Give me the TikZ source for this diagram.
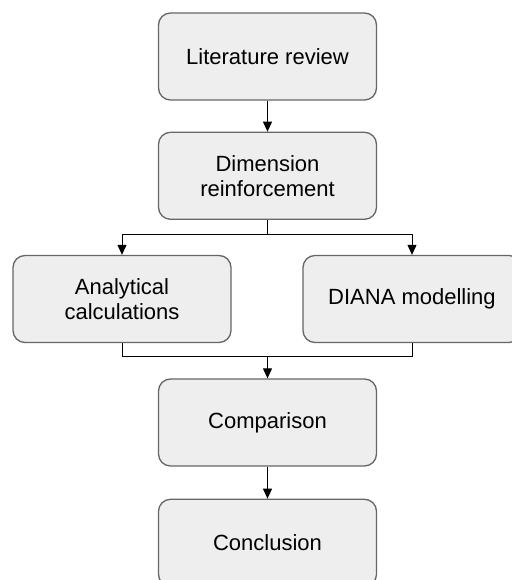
\documentclass[tikz,border=0pt]{standalone}
\usepackage{fontspec}
\setmainfont{Liberation Sans}
\usepackage{tikz}
\usetikzlibrary{positioning,arrows.meta,calc}
\definecolor{boxfill}{RGB}{238,238,238}
\definecolor{boxline}{RGB}{102,102,102}
\tikzset{
  stage/.style={draw=boxline,fill=boxfill,line width=1.3pt,rounded corners=12pt,align=center,
    font=\fontsize{22}{25}\selectfont,minimum width=218pt,minimum height=87pt,inner sep=0pt},
  flow/.style={-{Triangle[length=10pt,width=9pt]},line width=1pt},
  link/.style={line width=1pt},
}

\begin{document}
\begin{tikzpicture}[node distance=31pt]
  \useasboundingbox (0,0) rectangle (511pt,-580pt);
  \node[stage] (lit) at (267.5pt,-56.5pt) {Literature review};
  \node[stage,below=31pt of lit] (dim) {Dimension\\reinforcement};
  \node[stage] (ana) at (122pt,-299pt) {Analytical\\calculations};
  \node[stage] (diana) at (412pt,-299pt) {DIANA modelling};
  \node[stage] (comp) at (267.5pt,-422.5pt) {Comparison};
  \node[stage,below=32pt of comp] (concl) {Conclusion};
  % split and join
  \coordinate (split) at ($(dim.south)+(0,-15pt)$);
  \coordinate (join) at ($(comp.north)+(0,22pt)$);
  \draw[flow] (lit) -- (dim);
  \draw[link] (dim.south) -- (split);
  \draw[flow] (split) -| (ana.north);
  \draw[flow] (split) -| (diana.north);
  \draw[link] (ana.south) |- (join) -| (diana.south);
  \draw[flow] (join) -- (comp.north);
  \draw[flow] (comp) -- (concl);
\end{tikzpicture}
\end{document}
